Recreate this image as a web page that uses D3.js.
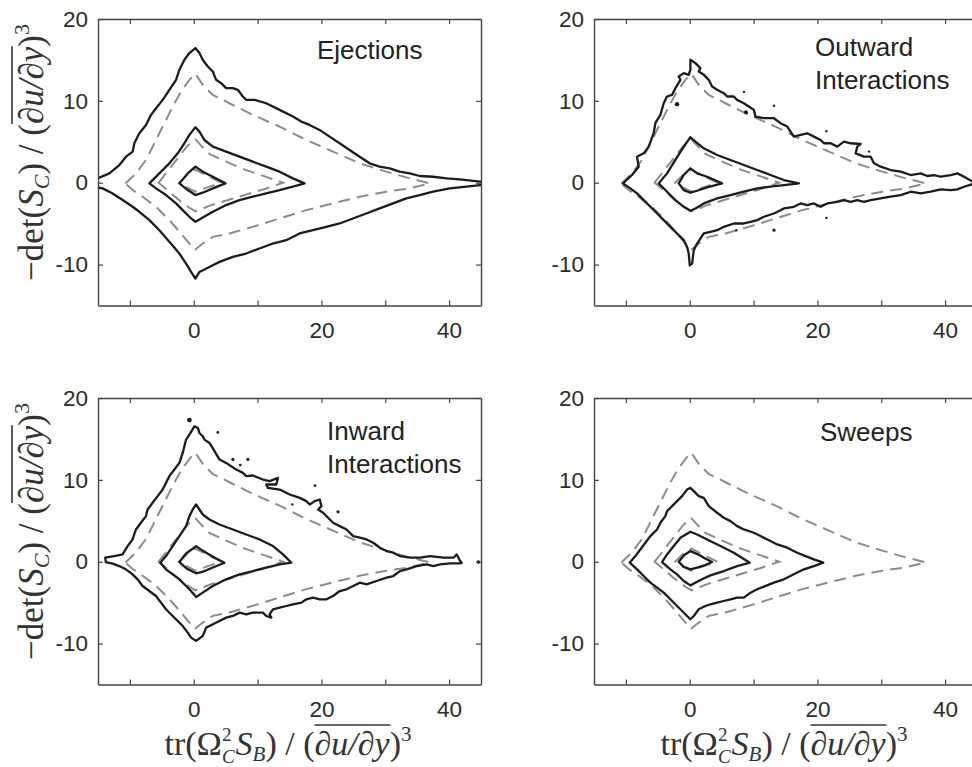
<!DOCTYPE html>
<html>
<head>
<meta charset="utf-8">
<script src="https://cdn.jsdelivr.net/npm/d3@7"></script>
<style>
  body { margin: 0; background: #fff; }
  svg { display: block; }
</style>
</head>
<body>
<svg id="drawing_region"></svg>
<script>
// ---- data ----
const xTicks = [-10, 0, 10, 20, 30, 40];
const xTickLabels = [0, 20, 40];
const yTicks = [-10, 0, 10, 20];

// dashed grey reference contours, the same in every panel
const refOuter = [[-10.7,-0.1],[-9.05,1.14],[-7.48,2.78],[-6.43,4.41],[-5.39,6.04],[-4.34,7.67],[-3.29,9.31],[-1.99,11.14],[-0.68,12.57],[0.26,13.3],[1.41,11.96],[2.98,10.73],[5.59,9.71],[9.25,8.29],[13.44,6.86],[17.62,5.22],[21.8,3.8],[25.99,2.37],[30.17,1.35],[33.83,0.53],[36.97,-0.08],[33.83,-0.69],[30.17,-1.1],[25.99,-1.71],[21.8,-2.53],[17.62,-3.35],[13.44,-4.37],[9.25,-5.39],[5.59,-6.2],[2.98,-6.61],[1.41,-7.43],[0.26,-8.16],[-0.68,-7.43],[-1.99,-6.2],[-3.82,-4.57],[-5.91,-2.94],[-8.0,-1.71],[-9.57,-0.9]];
const refMiddle = [[-5.5,0],[-4,1.5],[-2.5,3],[-1,4.5],[0.26,5.3],[1.2,4.5],[2.5,3.5],[5,2.6],[8,1.6],[11,0.8],[14,0],[11,-0.8],[8,-1.5],[5,-2.2],[2.5,-2.8],[1,-3.3],[0.26,-3.5],[-0.8,-3],[-2.5,-2],[-4,-1]];
const refInner = [[-2.3,0],[-1,1],[0.26,1.6],[2,0.9],[4.3,0],[2,-0.6],[0.26,-1.1],[-1,-0.6]];

// solid black contours per quadrant
const ejectionsOuter = [[-15.6,0.33],[-13.23,1.14],[-11.66,2.16],[-10.61,3.18],[-9.57,3.8],[-9.31,4.82],[-8.52,6.04],[-7.48,7.06],[-6.69,8.29],[-5.91,9.1],[-4.86,10.12],[-3.82,11.35],[-2.77,12.57],[-2.25,13.8],[-1.46,15.02],[-0.68,15.84],[0.26,16.45],[0.89,15.84],[1.41,15.02],[2.2,14.2],[2.98,13.59],[3.5,12.57],[4.29,12.16],[5.07,11.55],[6.12,11.55],[6.9,11.35],[7.69,10.53],[8.21,10.12],[9.52,10.12],[11.35,9.71],[13.44,8.9],[15.53,8.08],[16.84,7.47],[18.14,7.06],[19.71,6.45],[21.28,5.63],[22.85,4.82],[24.42,4.0],[25.99,3.18],[27.56,2.37],[29.12,1.96],[30.69,1.76],[32.26,1.35],[33.83,1.14],[35.4,0.82],[37.49,0.73],[39.58,0.53],[41.67,0.41],[44.86,0.12],[45.6,0.1],[45.6,-0.3],[44.86,-0.29],[42.72,-0.49],[40.1,-0.69],[37.49,-1.1],[35.4,-1.51],[33.31,-1.92],[31.22,-2.53],[29.12,-3.14],[27.03,-3.76],[24.94,-4.37],[22.85,-4.98],[20.76,-5.39],[18.67,-5.8],[16.58,-6.2],[14.48,-7.02],[12.39,-7.43],[10.3,-8.04],[8.21,-8.65],[6.12,-9.06],[4.03,-9.67],[2.46,-10.29],[0.89,-10.9],[0.26,-11.71],[-0.42,-10.9],[-1.2,-9.88],[-2.25,-8.65],[-3.82,-7.22],[-5.39,-5.8],[-6.95,-4.57],[-8.52,-3.55],[-9.57,-2.94],[-11.14,-2.12],[-12.71,-1.31],[-14.27,-0.69],[-15.6,-0.49]];
const ejectionsMiddle = [[-6.95,-0.08],[-5.39,1.14],[-3.82,2.37],[-2.51,3.59],[-1.46,4.82],[-0.68,5.84],[0.26,6.78],[0.89,6.24],[1.67,5.22],[2.98,4.41],[5.07,3.8],[7.16,3.18],[9.25,2.57],[11.35,1.96],[13.44,1.35],[15.53,0.53],[17.36,-0.08],[15.53,-0.49],[13.44,-0.9],[11.35,-1.31],[9.25,-1.71],[7.16,-2.12],[5.07,-2.73],[2.98,-3.55],[1.15,-4.37],[0.26,-4.78],[-0.68,-4.16],[-1.73,-3.35],[-2.77,-2.53],[-4.34,-1.51],[-5.91,-0.69]];
const ejectionsInner = [[-2.25,-0.08],[-0.94,1.14],[0.26,1.96],[1.41,1.35],[2.98,0.73],[4.97,-0.08],[2.98,-0.69],[1.41,-1.22],[0.26,-1.51],[-0.94,-0.9]];
const ejectionsDots = [];

const outwardOuter = [[-10.46,-0.08],[-9.05,0.94],[-8.0,1.96],[-8.26,3.18],[-7.22,3.59],[-6.43,4.41],[-5.65,6.04],[-5.39,7.27],[-4.6,8.29],[-4.08,9.71],[-3.56,10.53],[-2.77,10.73],[-2.25,11.55],[-1.46,12.57],[-1.73,12.98],[-0.94,13.39],[-0.16,13.18],[0.1,13.8],[0.1,15.02],[0.89,14.61],[1.67,14.0],[1.41,13.59],[2.2,13.18],[2.98,12.57],[3.5,11.76],[4.29,11.35],[5.33,10.94],[5.86,10.53],[6.9,10.53],[7.42,10.12],[8.47,9.71],[9.25,9.31],[10.04,8.9],[10.3,8.08],[11.61,7.88],[13.18,7.88],[14.22,7.27],[15.27,6.86],[16.31,5.63],[17.36,5.84],[18.41,6.04],[19.45,5.63],[20.5,5.22],[21.02,4.82],[22.07,4.82],[23.11,4.41],[24.16,5.02],[25.2,4.82],[26.77,4.73],[26.25,4.41],[25.99,3.59],[27.29,3.18],[28.34,3.18],[28.86,2.37],[29.91,1.96],[31.48,1.55],[33.05,1.35],[34.61,0.94],[36.18,1.14],[37.23,0.82],[38.27,0.94],[39.32,0.73],[40.89,0.94],[41.93,1.14],[42.98,0.73],[44.34,0.12],[45.2,-0.05],[44.34,-0.16],[42.98,-0.49],[41.93,-0.82],[40.89,-0.9],[39.32,-0.82],[37.75,-1.1],[36.18,-1.31],[34.61,-1.1],[33.05,-1.51],[31.48,-1.71],[29.91,-1.92],[28.34,-2.12],[27.29,-2.33],[26.25,-2.12],[25.2,-2.33],[24.16,-2.12],[23.11,-2.33],[21.54,-2.53],[20.5,-2.94],[19.45,-2.53],[18.41,-2.73],[17.36,-2.53],[16.31,-2.94],[14.75,-3.14],[13.18,-3.76],[11.61,-4.16],[10.56,-4.57],[9.52,-4.78],[8.47,-4.98],[6.9,-4.98],[5.33,-5.39],[4.29,-5.8],[3.24,-6.0],[2.2,-6.2],[1.67,-6.82],[1.15,-7.43],[0.63,-8.24],[0.37,-9.88],[0,-10.08],[-0.16,-8.65],[-0.42,-7.84],[-0.94,-7.02],[-1.99,-6.2],[-3.03,-5.39],[-4.08,-4.57],[-5.12,-3.76],[-6.17,-2.94],[-7.22,-2.12],[-8.26,-1.31],[-9.31,-0.69]];
const outwardMiddle = [[-4.86,-0.08],[-3.56,1.14],[-2.25,2.78],[-0.94,4.41],[0.1,5.55],[0.89,5.02],[2.2,4.2],[4.29,3.39],[6.38,2.78],[8.47,2.16],[10.56,1.55],[12.65,0.94],[14.75,0.33],[17.1,-0.08],[14.75,-0.29],[12.65,-0.49],[10.56,-0.69],[8.47,-1.1],[6.38,-1.51],[4.29,-1.92],[2.2,-2.53],[0.89,-3.14],[0.1,-3.43],[-0.94,-2.94],[-2.25,-2.12],[-3.56,-1.1]];
const outwardInner = [[-1.73,-0.08],[-0.94,0.94],[0.1,1.76],[1.15,1.14],[2.72,0.73],[5.07,-0.08],[2.72,-0.57],[1.15,-0.98],[0.1,-1.22],[-0.94,-0.9]];
const outwardDots = [[-2.0,9.6,2.2],[8.5,11.1,1.2],[8.8,8.6,2.0],[13.2,9.4,1.2],[21.4,6.3,1.2],[28.1,3.8,1.2],[7.3,-5.8,1.2],[13.2,-5.8,1.6],[21.4,-4.3,1.2]];

const inwardOuter = [[-13.87,0.49],[-12.46,0.69],[-11.15,0.89],[-10.37,1.91],[-9.58,2.72],[-9.06,3.94],[-8.27,4.76],[-7.49,5.57],[-7.23,6.38],[-6.44,7.2],[-5.65,8.01],[-4.87,8.82],[-4.35,9.63],[-3.82,10.45],[-3.04,11.26],[-2.25,12.07],[-1.73,13.29],[-1.47,14.11],[-1.2,14.92],[-0.68,15.53],[0.1,16.54],[0.63,16.34],[0.89,15.73],[1.41,15.33],[1.68,14.92],[2.46,14.51],[3.25,13.5],[4.03,12.48],[5.08,12.07],[5.86,11.67],[6.65,11.26],[7.7,10.85],[8.22,10.45],[9.27,10.53],[10.84,10.04],[11.88,9.84],[13.19,10.24],[12.93,9.43],[11.36,9.43],[11.62,9.02],[13.46,8.82],[15.03,8.21],[16.6,7.8],[17.64,7.4],[18.17,6.99],[18.95,7.4],[19.74,7.6],[20.0,6.79],[19.48,6.38],[20.26,5.98],[21.05,5.37],[21.83,4.76],[22.88,4.35],[23.93,3.94],[24.97,3.13],[26.02,2.93],[27.07,2.72],[28.12,2.32],[29.16,1.71],[30.21,1.3],[31.26,1.1],[32.3,0.69],[33.87,0.49],[35.45,0.49],[37.02,0.69],[39.11,0.49],[40.68,0.49],[41.2,0.89],[41.73,0.08],[41.99,-0.12],[41.73,-0.2],[40.16,-0.2],[38.59,-0.33],[37.54,-0.53],[36.49,-0.33],[34.92,-0.53],[33.35,-0.93],[32.3,-1.14],[31.26,-1.75],[30.21,-1.95],[28.64,-2.36],[27.07,-2.76],[26.02,-2.56],[24.97,-2.97],[23.93,-3.37],[22.88,-3.58],[21.83,-4.19],[20.79,-4.59],[19.74,-4.59],[18.69,-4.39],[17.64,-4.59],[16.86,-5.0],[15.55,-5.2],[14.5,-5.41],[13.46,-5.61],[12.41,-5.81],[11.88,-6.42],[12.15,-6.83],[11.36,-6.63],[10.84,-6.22],[9.27,-6.22],[8.22,-6.42],[7.17,-6.22],[6.13,-6.63],[5.08,-6.83],[4.03,-7.24],[3.0,-7.64],[1.94,-8.05],[1.41,-9.07],[0.37,-9.67],[-0.42,-9.27],[-0.94,-8.66],[-1.73,-7.85],[-2.25,-7.44],[-3.3,-6.63],[-4.35,-5.81],[-5.13,-5.0],[-5.92,-4.19],[-6.96,-3.58],[-8.01,-2.97],[-8.8,-2.15],[-9.58,-1.54],[-10.63,-0.93],[-11.68,-0.53],[-12.72,-0.24],[-13.77,-0.04]];
const inwardMiddle = [[-5.24,-0.12],[-4.35,0.69],[-3.3,1.91],[-2.25,3.13],[-1.2,4.35],[-0.68,5.57],[-0.16,6.38],[0.37,6.99],[0.89,6.38],[1.41,5.77],[2.46,5.16],[4.03,4.55],[6.13,3.94],[8.22,3.33],[10.31,2.72],[12.41,1.91],[13.98,0.89],[15.29,-0.12],[13.46,-0.33],[11.36,-0.73],[9.27,-1.14],[7.17,-1.54],[5.08,-2.15],[2.98,-2.97],[1.41,-3.78],[0.37,-4.31],[-0.42,-3.58],[-1.2,-2.97],[-2.25,-2.15],[-3.3,-1.54],[-4.35,-0.93]];
const inwardInner = [[-2.25,-0.04],[-1.2,1.0],[0.37,1.91],[1.5,1.3],[3.0,0.6],[4.82,-0.12],[3.0,-0.7],[1.5,-1.2],[0.37,-1.42],[-1.0,-0.9]];
const inwardDots = [[-0.68,17.3,2.4],[3.77,15.8,1.4],[6.13,12.5,1.6],[7.28,11.8,1.4],[8.48,12.5,1.6],[19.0,9.3,1.4],[15.45,7.0,1.2],[22.6,6.1,1.6],[44.6,-0.05,1.8]];

const sweepsOuter = [[-9.41,-0.12],[-8.52,0.69],[-7.74,1.5],[-6.95,2.32],[-6.17,3.13],[-5.12,3.94],[-4.6,4.76],[-3.82,5.57],[-3.56,6.18],[-2.77,6.79],[-1.99,7.4],[-1.2,8.01],[-0.42,8.82],[0.1,9.02],[0.63,8.62],[1.41,8.01],[2.2,7.8],[2.98,6.79],[4.29,5.98],[5.33,5.37],[6.38,4.96],[7.42,4.35],[8.47,3.94],[10.04,3.54],[11.08,3.13],[12.65,2.52],[13.7,2.11],[15.27,1.71],[16.84,1.1],[18.14,0.69],[19.45,0.28],[20.92,-0.12],[19.45,-0.53],[17.88,-0.93],[16.31,-1.54],[14.75,-2.15],[13.18,-2.56],[11.61,-3.05],[10.56,-3.37],[9.52,-3.78],[8.47,-4.39],[7.42,-4.39],[6.38,-4.59],[5.33,-4.8],[4.29,-5.0],[3.24,-5.2],[2.2,-5.49],[1.41,-5.81],[0.63,-6.63],[0.1,-7.03],[-0.42,-6.63],[-1.2,-6.02],[-1.99,-5.41],[-3.03,-4.59],[-4.08,-3.78],[-5.12,-3.17],[-6.17,-2.56],[-7.22,-1.75],[-8.26,-0.93]];
const sweepsMiddle = [[-4.34,-0.04],[-3.56,0.89],[-2.51,1.91],[-1.46,2.93],[0.1,3.66],[1.15,3.33],[2.72,2.72],[4.81,1.91],[6.9,1.1],[9.41,-0.12],[7.42,-0.53],[5.33,-1.14],[3.24,-1.67],[1.67,-2.24],[0.1,-2.89],[-0.94,-2.36],[-1.99,-1.54],[-3.03,-0.93]];
const sweepsInner = [[-1.73,0],[-0.9,0.8],[0.1,1.3],[1.3,0.9],[2.4,0.4],[3.5,-0.04],[2.4,-0.4],[1.3,-0.7],[0.1,-0.93],[-1.0,-0.6]];
const sweepsDots = [];

const panelTitles = [["Ejections"], ["Outward", "Interactions"], ["Inward", "Interactions"], ["Sweeps"]];

// ---- layout ----
const config = {
    width: 972, height: 767,
    panelW: 383, panelH: 286.5,
    lefts: [98, 594], tops: [19, 398]
};

const panels = [
    { col: 0, row: 0, title: panelTitles[0], titlePos: [219, 40], solid: [ejectionsOuter, ejectionsMiddle, ejectionsInner], dots: ejectionsDots },
    { col: 1, row: 0, title: panelTitles[1], titlePos: [221, 37], solid: [outwardOuter, outwardMiddle, outwardInner], dots: outwardDots },
    { col: 0, row: 1, title: panelTitles[2], titlePos: [229, 42], solid: [inwardOuter, inwardMiddle, inwardInner], dots: inwardDots },
    { col: 1, row: 1, title: panelTitles[3], titlePos: [226, 43], solid: [sweepsOuter, sweepsMiddle, sweepsInner], dots: sweepsDots }
];
const dashed = [refOuter, refMiddle, refInner];

const svg = d3.select('#drawing_region')
    .attr('width', config.width)
    .attr('height', config.height);

const xscale = d3.scaleLinear().domain([-15, 45]).range([0, config.panelW]);
const yscale = d3.scaleLinear().domain([-15, 20]).range([config.panelH, 0]);

const line = d3.line()
    .x(d => xscale(d[0]))
    .y(d => yscale(d[1]))
    .curve(d3.curveLinearClosed);

const tickFont = "'Liberation Sans', Arial, Helvetica, sans-serif";
const mathFont = "'Liberation Serif', 'Times New Roman', serif";

// centre a label on its anchor using the rendered box, then draw the overline
function finishLabel(lg, txt, ov) {
    const bb = txt.node().getBBox();
    const shift = -(bb.x + bb.width / 2);
    txt.attr('x', shift);
    const ob = ov.node().getBBox();
    lg.append('line')
        .attr('x1', ob.x).attr('x2', ob.x + ob.width)
        .attr('y1', ob.y).attr('y2', ob.y)
        .attr('stroke', '#333').attr('stroke-width', 1.6);
}

panels.forEach((p, i) => {
    const g = svg.append('g')
        .attr('transform', `translate(${config.lefts[p.col]}, ${config.tops[p.row]})`);

    g.append('clipPath').attr('id', 'clip' + i)
        .append('rect')
        .attr('width', config.panelW)
        .attr('height', config.panelH);

    const plot = g.append('g').attr('clip-path', `url(#clip${i})`);

    // dashed reference contours
    plot.selectAll('path.ref')
        .data(dashed)
        .join('path')
        .attr('class', 'ref')
        .attr('d', line)
        .attr('fill', 'none')
        .attr('stroke', '#8c8c8c')
        .attr('stroke-width', 2)
        .attr('stroke-dasharray', '12,7');

    // solid contours
    plot.selectAll('path.cont')
        .data(p.solid)
        .join('path')
        .attr('class', 'cont')
        .attr('d', line)
        .attr('fill', 'none')
        .attr('stroke', '#1c1c1c')
        .attr('stroke-width', 2.3)
        .attr('stroke-linejoin', 'round');

    plot.selectAll('circle')
        .data(p.dots)
        .join('circle')
        .attr('cx', d => xscale(d[0]))
        .attr('cy', d => yscale(d[1]))
        .attr('r', d => d[2])
        .attr('fill', '#1c1c1c');

    // axes (inward ticks on all four sides)
    const xaxis = d3.axisBottom(xscale)
        .tickValues(xTicks)
        .tickSizeInner(-5).tickSizeOuter(0)
        .tickPadding(17)
        .tickFormat(d => xTickLabels.includes(d) ? String(d) : '');
    const yaxis = d3.axisLeft(yscale)
        .tickValues(yTicks)
        .tickSizeInner(-5).tickSizeOuter(0)
        .tickPadding(10)
        .tickFormat(d => String(d));
    const xtop = d3.axisTop(xscale).tickValues(xTicks).tickSizeInner(-5).tickSizeOuter(0).tickFormat('');
    const yright = d3.axisRight(yscale).tickValues(yTicks).tickSizeInner(-5).tickSizeOuter(0).tickFormat('');

    const axes = [
        g.append('g').attr('transform', `translate(0, ${config.panelH})`).call(xaxis),
        g.append('g').call(yaxis),
        g.append('g').call(xtop),
        g.append('g').attr('transform', `translate(${config.panelW}, 0)`).call(yright)
    ];
    axes.forEach(a => {
        a.select('.domain').attr('stroke', '#444').attr('stroke-width', 1.4);
        a.selectAll('.tick line').attr('stroke', '#444').attr('stroke-width', 1.2);
        a.selectAll('.tick text')
            .attr('fill', '#2b2b2b')
            .style('font-family', tickFont)
            .style('font-size', '22.5px');
    });

    // title
    const t = g.append('text')
        .attr('x', p.titlePos[0])
        .attr('y', p.titlePos[1])
        .attr('fill', '#222')
        .style('font-family', tickFont)
        .style('font-size', '26px');
    p.title.forEach((s, k) => {
        t.append('tspan')
            .attr('x', p.titlePos[0])
            .attr('dy', k === 0 ? 0 : 33)
            .text(s);
    });

    // y label on left column
    if (p.col === 0) {
        const lg = g.append('g')
            .attr('transform', `translate(${43 - config.lefts[0]}, 133.5) rotate(-90)`);
        const yl = lg.append('text')
            .attr('fill', '#333')
            .style('font-family', mathFont)
            .style('font-size', '35px');
        yl.append('tspan').text('\u2212det(');
        yl.append('tspan').style('font-style', 'italic').text('S');
        yl.append('tspan').style('font-style', 'italic').style('font-size', '22px').attr('dy', 6).text('C');
        yl.append('tspan').attr('dy', -6).text(') / (');
        const ov = yl.append('tspan').style('font-style', 'italic').text('\u2202u/\u2202y');
        yl.append('tspan').text(')');
        yl.append('tspan').style('font-size', '22px').attr('dy', -14).text('3');
        finishLabel(lg, yl, ov);
    }

    // x label on bottom row
    if (p.row === 1) {
        const lg = g.append('g')
            .attr('transform', `translate(190, ${755 - config.tops[1]})`);
        const xl = lg.append('text')
            .attr('fill', '#333')
            .style('font-family', mathFont)
            .style('font-size', '34px');
        xl.append('tspan').text('tr(\u03A9');
        xl.append('tspan').style('font-size', '19px').attr('dy', -14).text('2');
        xl.append('tspan').style('font-size', '19px').style('font-style', 'italic').attr('dx', -9.5).attr('dy', 22).text('C');
        xl.append('tspan').style('font-style', 'italic').attr('dx', 1).attr('dy', -8).text('S');
        xl.append('tspan').style('font-style', 'italic').style('font-size', '21px').attr('dy', 6).text('B');
        xl.append('tspan').attr('dy', -6).text(') / (');
        const ov = xl.append('tspan').style('font-style', 'italic').text('\u2202u/\u2202y');
        xl.append('tspan').text(')');
        xl.append('tspan').style('font-size', '21px').attr('dy', -14).text('3');
        finishLabel(lg, xl, ov);
    }
});
</script>
</body>
</html>
